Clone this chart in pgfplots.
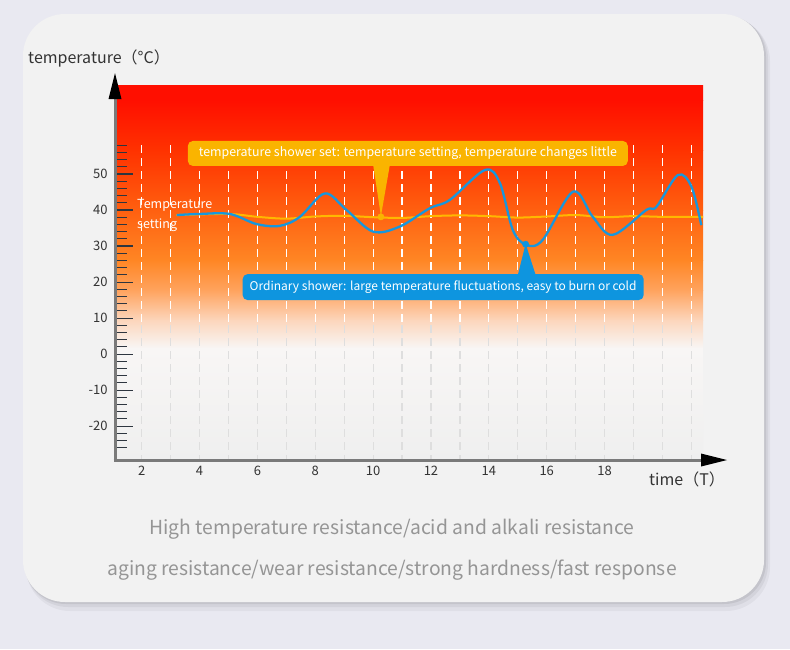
\documentclass[border=0pt]{standalone}
\usepackage{fontspec}
\setmainfont{Noto Sans CJK SC}
\usepackage{pgfplots}
\pgfplotsset{compat=1.18}
\definecolor{bgc}{HTML}{E9E9F1}
\definecolor{cardc}{HTML}{F2F2F2}
\definecolor{g0}{HTML}{FF0F00}
\definecolor{g1}{HTML}{FF3200}
\definecolor{g2}{HTML}{FF6010}
\definecolor{g3}{HTML}{FF8624}
\definecolor{g4}{HTML}{FFA35E}
\definecolor{g5}{HTML}{FCD6BC}
\definecolor{g6}{HTML}{F8F6F5}
\definecolor{g7}{HTML}{EFEFEF}
\definecolor{ylw}{HTML}{FAB400}
\definecolor{ylwline}{HTML}{FFB800}
\definecolor{bluec}{HTML}{1797DD}
\definecolor{boxblue}{HTML}{0E95DF}
\definecolor{axgray}{HTML}{7A7A7A}
\definecolor{tickc}{HTML}{2E3640}
\definecolor{txt}{HTML}{333333}
\definecolor{bottomtxt}{HTML}{959595}
\begin{document}
\begin{tikzpicture}
% background and card
\fill[bgc] (0pt,0pt) rectangle (790pt,-649pt);
\useasboundingbox (0pt,0pt) rectangle (790pt,-649pt);
\fill[black, opacity=0.04, rounded corners=44pt] (26pt,-17pt) rectangle (770pt,-611pt);
\fill[black, opacity=0.05, rounded corners=43pt] (25pt,-16pt) rectangle (768pt,-607pt);
\fill[black, opacity=0.07, rounded corners=42pt] (24pt,-15pt) rectangle (766pt,-604pt);
\fill[cardc, rounded corners=42pt] (23pt,-14pt) rectangle (764pt,-602pt);
% heat gradient
\fill[top color=g0, bottom color=g0] (115pt,-85pt) rectangle (703pt,-100.5pt);
\fill[top color=g0, bottom color=g1] (115pt,-100pt) rectangle (703pt,-150.5pt);
\fill[top color=g1, bottom color=g2] (115pt,-150pt) rectangle (703pt,-210.5pt);
\fill[top color=g2, bottom color=g3] (115pt,-210pt) rectangle (703pt,-260.5pt);
\fill[top color=g3, bottom color=g4] (115pt,-260pt) rectangle (703pt,-290.5pt);
\fill[top color=g4, bottom color=g5] (115pt,-290pt) rectangle (703pt,-320.5pt);
\fill[top color=g5, bottom color=g6] (115pt,-320pt) rectangle (703pt,-348.5pt);
\fill[top color=g6, bottom color=g7] (115pt,-348pt) rectangle (703pt,-460pt);
\begin{axis}[
  at={(115pt,-460pt)}, anchor=south west,
  scale only axis, width=588pt, height=375pt,
  xmin=1.08, xmax=21.4, ymin=-29.4, ymax=74.7,
  axis lines*=left, axis line style={draw=none},
  tick align=inside,
  xtick={2,4,...,18}, xtick style={draw=none},
  ytick={-20,-10,...,50}, minor ytick={-26,-24,...,58},
  major tick length=18pt, minor tick length=12pt,
  every tick/.style={draw=tickc, line width=1.1pt},
  /pgf/number format/assume math mode=true,
  xticklabel style={font=\fontsize{13}{13}\selectfont, text=txt, yshift=-3pt},
  yticklabel style={font=\fontsize{13}{13}\selectfont, text=txt, xshift=-4pt},
  clip=false,
]
% grid dashes
\pgfplotsinvokeforeach{2,...,21}{
  \draw[white, line width=1.2pt, dash pattern=on 8pt off 5pt] (axis cs:#1,58) -- (axis cs:#1,8);
  \draw[black!13, line width=1.2pt, dash pattern=on 8pt off 5pt] (axis cs:#1,8) -- (axis cs:#1,-29.4);
}
% set temperature line
\addplot[ylwline, line width=2pt, smooth, tension=0.5] coordinates {
(3.2,38.6)(5,38.9)(6,38.1)(7,37.6)(8,38.2)(9,38.4)(10,38.0)(11,37.8)(12,38.3)(13,38.5)(14,38.3)(15,37.9)(16,38.2)(17,38.6)(18,38.0)(19,38.3)(20,38.1)(21.4,38.1)
};
% ordinary shower curve
\addplot[bluec, line width=2.3pt, smooth, tension=0.55] coordinates {
(3.21,38.6)(4.0,38.9)(5.05,38.9)(5.97,36.1)(6.78,35.6)(7.47,38.1)(8.33,44.6)(9.08,40.0)(10.0,34.0)(10.92,35.4)(11.96,40.5)(12.65,42.8)(13.86,51.1)(14.38,47.5)(14.83,34.4)(15.30,30.3)(15.86,31.7)(16.91,45.1)(17.59,38.1)(18.28,33.1)(19.44,40.0)(19.79,40.9)(20.53,49.7)(21.0,46.5)(21.34,35.8)
};
% callout pointers
\addplot[fill=ylw, draw=none] coordinates {(10.0,52.6)(10.58,52.6)(10.27,38.3)} -- cycle;
\addplot[fill=boxblue, draw=none] coordinates {(15.0,21.9)(15.62,21.9)(15.27,30.6)} -- cycle;
\addplot[only marks, mark=*, mark size=3.2pt, ylw, mark options={draw=ylw, fill=ylw}] coordinates {(10.27,38.1)};
\addplot[only marks, mark=*, mark size=3.2pt, boxblue, mark options={draw=boxblue, fill=boxblue}] coordinates {(15.27,30.5)};
% callout boxes
\node[fill=ylw, rounded corners=5pt, minimum width=440pt, minimum height=25pt, inner sep=0pt, text=white, font=\fontsize{12.4}{12.4}\selectfont] at (axis cs:11.2,55.7) {temperature shower set: temperature setting, temperature changes little};
\node[fill=boxblue, rounded corners=5pt, minimum width=401pt, minimum height=26pt, inner sep=0pt, text=white, font=\fontsize{12}{12}\selectfont] at (axis cs:12.42,18.6) {Ordinary shower: large temperature fluctuations, easy to burn or cold};
\node[anchor=west, align=left, text=white, inner sep=0pt, font=\fontsize{12.5}{20}\selectfont] at (axis cs:1.84,38.6) {Temperature\\setting};
\end{axis}
% axes with arrows
\draw[axgray, line width=3pt] (115pt,-461.5pt) -- (115pt,-98pt);
\fill[black] (115pt,-73pt) -- (108.5pt,-99pt) -- (121.5pt,-99pt) -- cycle;
\draw[axgray, line width=3pt] (113.5pt,-460pt) -- (702pt,-460pt);
\fill[black] (727pt,-460pt) -- (701pt,-453.5pt) -- (701pt,-466.5pt) -- cycle;
% axis titles
\node[anchor=west, text=txt, inner sep=0pt, font=\fontsize{16}{16}\selectfont] at (28pt,-58pt) {temperature（°C）};
\node[anchor=west, text=txt, inner sep=0pt, font=\fontsize{16}{16}\selectfont] at (649pt,-479pt) {time（T）};
% bottom text
\node[text=bottomtxt, inner sep=0pt, font=\fontsize{19.3}{19.3}\selectfont] at (392pt,-529pt) {High temperature resistance/acid and alkali resistance};
\node[text=bottomtxt, inner sep=0pt, font=\fontsize{19.3}{19.3}\selectfont] at (392pt,-570pt) {aging resistance/wear resistance/strong hardness/fast response};
\end{tikzpicture}
\end{document}
